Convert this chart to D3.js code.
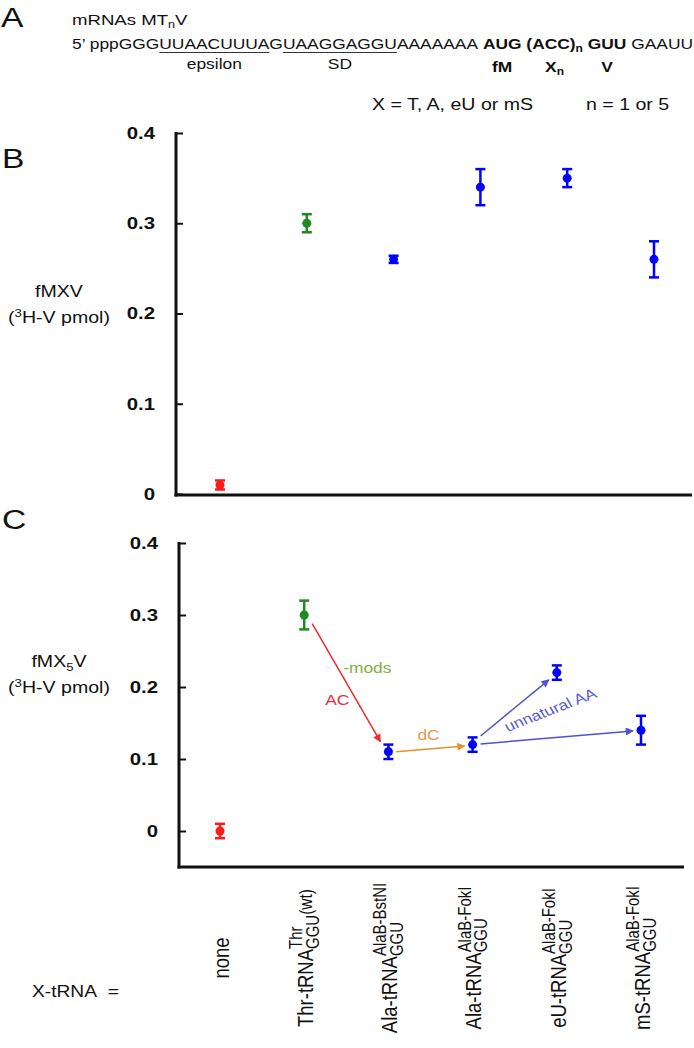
<!DOCTYPE html>
<html>
<head>
<meta charset="utf-8">
<script src="https://cdn.jsdelivr.net/npm/d3@7"></script>
<style>
  body { margin: 0; background: #fff; }
  text { font-family: "Liberation Sans", Arial, sans-serif; fill: #111; }
</style>
</head>
<body>
<div id="viz"></div>
<script>
// data
var categories = ["none", "Thr", "Ala-BstNI", "Ala-FokI", "eU", "mS"];
var pointColors = ["#ff1a1a", "#1f8a1f", "#0000ff", "#0000ff", "#0000ff", "#0000ff"];
var fmxvValues = [0.01, 0.30, 0.26, 0.34, 0.35, 0.26];
var fmxvErrors = [0.005, 0.01, 0.004, 0.02, 0.01, 0.02];
var fmx5vValues = [0.00, 0.30, 0.11, 0.12, 0.22, 0.14];
var fmx5vErrors = [0.01, 0.02, 0.01, 0.01, 0.01, 0.02];
var yTicks = [0, 0.1, 0.2, 0.3, 0.4];
var yTickLabels = ["0", "0.1", "0.2", "0.3", "0.4"];
var labelMain = ["none", "Thr-tRNA", "Ala-tRNA", "Ala-tRNA", "eU-tRNA", "mS-tRNA"];
var labelSup = ["", "Thr", "AlaB-BstNI", "AlaB-FokI", "AlaB-FokI", "AlaB-FokI"];
var labelSub = ["", "GGU", "GGU", "GGU", "GGU", "GGU"];
var labelTail = ["", "(wt)", "", "", "", ""];
// arrows in panel C: from category/value to category/value
var arrowFrom = [1, 2, 3, 3];
var arrowFromY = [0.288, 0.110, 0.132, 0.121];
var arrowTo = [2, 3, 4, 5];
var arrowToY = [0.124, 0.118, 0.210, 0.139];
var arrowColors = ["#ee2a2a", "#e8912c", "#5050d4", "#5050d4"];

var W = 694, H = 1048, SX = 1.2;
var svg = d3.select("#viz").append("svg")
  .attr("width", W).attr("height", H);
svg.append("rect").attr("width", W).attr("height", H).attr("fill", "#fff");

// text that is stretched a bit sideways like the source figure
function sText(parent, x, y, size, rot) {
  return parent.append("text")
    .attr("transform", "translate(" + x + "," + y + ") scale(" + SX + ",1)" + (rot ? " rotate(" + rot + ")" : ""))
    .attr("font-size", size + "px");
}

// ---- panel A header ----
sText(svg, 1, 27, 28).text("A");
var t1 = sText(svg, 72, 25, 15.5);
t1.append("tspan").text("mRNAs MT");
t1.append("tspan").attr("font-size", "10.5px").attr("dy", 3).text("n");
t1.append("tspan").attr("dy", -3).text("V");

var segs = [
  {t: "5\u2019 pppGGG"}, {t: "UUAACUUUA", u: "epsilon"}, {t: "G"}, {t: "UAAGGAGGU", u: "SD"},
  {t: "AAAAAAA\u00a0"}, {t: "AUG", b: 1, lab: "fM"}, {t: "\u00a0"}, {t: "(ACC)", b: 1, lab: "X"},
  {t: "n", b: 1, sub: 1}, {t: "\u00a0"}, {t: "GUU", b: 1, lab: "V"}, {t: "\u00a0GAAUU"}
];
var hg = svg.append("g").attr("transform", "translate(72,49) scale(" + SX + ",1)");
var cx = 0;
segs.forEach(function(s) {
  var t = hg.append("text").attr("x", cx)
    .attr("font-size", s.sub ? "10px" : "14.5px")
    .attr("font-weight", s.b ? "bold" : "normal")
    .attr("dy", s.sub ? 3 : 0)
    .text(s.t);
  var w = t.node().getComputedTextLength();
  if (s.u) {
    hg.append("line").attr("x1", cx).attr("x2", cx + w).attr("y1", 3.5).attr("y2", 3.5)
      .attr("stroke", "#333").attr("stroke-width", 1);
    hg.append("text").attr("x", cx + w / 2).attr("y", 20).attr("font-size", "14.5px")
      .attr("text-anchor", "middle").text(s.u);
  }
  if (s.lab) {
    var lt = hg.append("text").attr("x", cx + w / 2 + (s.lab == "X" ? 3 : 0)).attr("y", 23)
      .attr("font-size", "14.5px").attr("font-weight", "bold").attr("text-anchor", "middle");
    lt.append("tspan").text(s.lab);
    if (s.lab == "X") lt.append("tspan").attr("font-size", "10px").attr("dy", 3).text("n");
  }
  cx += w;
});
sText(svg, 372, 110, 16.3).text("X = T, A, eU or mS");
sText(svg, 586, 110, 16.3).text("n = 1 or 5");

// ---- panels B and C ----
var panels = [
  {values: fmxvValues, errors: fmxvErrors, letter: "B", letterY: 168, yTop: 133, yZero: 494,
   axisX: 176, baseY: 495, xFirst: 220, xLast: 654, xEnd: 692, labY: 297, sub: ""},
  {values: fmx5vValues, errors: fmx5vErrors, letter: "C", letterY: 529, yTop: 543, yZero: 831,
   axisX: 179, baseY: 867, xFirst: 220, xLast: 641, xEnd: 684, labY: 667, sub: "5"}
];
var scales = [];

panels.forEach(function(p, pi) {
  var x = d3.scalePoint().domain(categories).range([p.xFirst, p.xLast]);
  var y = d3.scaleLinear().domain([0, 0.4]).range([p.yZero, p.yTop]);
  scales.push({x: x, y: y});

  sText(svg, 2, p.letterY, 28).text(p.letter);

  // y axis label
  var l1 = sText(svg, 59, p.labY, 16.3).attr("text-anchor", "middle");
  l1.append("tspan").text("fMX");
  if (p.sub) {
    l1.append("tspan").attr("font-size", "11px").attr("dy", 4).text(p.sub);
    l1.append("tspan").attr("dy", -4).text("V");
  } else {
    l1.append("tspan").text("V");
  }
  var l2 = sText(svg, 59, p.labY + 26, 16.3).attr("text-anchor", "middle");
  l2.append("tspan").text("(");
  l2.append("tspan").attr("font-size", "11px").attr("dy", -6).text("3");
  l2.append("tspan").attr("dy", 6).text("H-V pmol)");

  // y axis with inward ticks
  var ax = svg.append("g").attr("transform", "translate(" + p.axisX + ",0)")
    .call(d3.axisLeft(y).tickValues(yTicks).tickSize(-7).tickSizeOuter(0).tickPadding(17.5)
      .tickFormat(function(d, i) { return yTickLabels[i]; }));
  ax.select(".domain").remove();
  ax.selectAll(".tick line").attr("stroke", "#111").attr("stroke-width", 2);
  ax.selectAll(".tick text").attr("font-size", "17px").attr("font-weight", "bold")
    .attr("font-family", "Liberation Sans, Arial, sans-serif").attr("fill", "#111")
    .attr("transform", "scale(" + SX + ",1)");
  svg.append("line").attr("x1", p.axisX).attr("x2", p.axisX).attr("y1", y(0.4) - 1).attr("y2", p.baseY + 1.5)
    .attr("stroke", "#111").attr("stroke-width", 3);
  svg.append("line").attr("x1", p.axisX - 1.5).attr("x2", p.xEnd).attr("y1", p.baseY).attr("y2", p.baseY)
    .attr("stroke", "#111").attr("stroke-width", 3);

  // error bars and points
  var g = svg.append("g");
  categories.forEach(function(c, i) {
    var v = p.values[i], e = p.errors[i], col = pointColors[i];
    g.append("line").attr("x1", x(c)).attr("x2", x(c)).attr("y1", y(v - e)).attr("y2", y(v + e))
      .attr("stroke", col).attr("stroke-width", 2.5);
    [v - e, v + e].forEach(function(cv) {
      g.append("line").attr("x1", x(c) - 5).attr("x2", x(c) + 5).attr("y1", y(cv)).attr("y2", y(cv))
        .attr("stroke", col).attr("stroke-width", 2.5);
    });
    g.append("circle").attr("cx", x(c)).attr("cy", y(v)).attr("r", 4.5).attr("fill", col);
  });
});

// ---- arrows in panel C ----
var sc = scales[1];
var defs = svg.append("defs");
arrowColors.forEach(function(col, i) {
  defs.append("marker").attr("id", "ah" + i).attr("viewBox", "0 0 10 10")
    .attr("refX", 9).attr("refY", 5).attr("markerUnits", "userSpaceOnUse")
    .attr("markerWidth", 9).attr("markerHeight", 8).attr("orient", "auto")
    .append("path").attr("d", "M0,0 L10,5 L0,10 z").attr("fill", col);
});
var mids = [];
arrowFrom.forEach(function(f, i) {
  var x1 = sc.x(categories[f]) + 8, y1 = sc.y(arrowFromY[i]);
  var x2 = sc.x(categories[arrowTo[i]]) - 8, y2 = sc.y(arrowToY[i]);
  svg.append("line").attr("x1", x1).attr("y1", y1).attr("x2", x2).attr("y2", y2)
    .attr("stroke", arrowColors[i]).attr("stroke-width", 1.5).attr("marker-end", "url(#ah" + i + ")");
  mids.push([(x1 + x2) / 2, (y1 + y2) / 2]);
});
sText(svg, mids[0][0] - 9, mids[0][1] + 22, 14.5).attr("text-anchor", "middle").style("fill", "#e8303a").text("AC");
sText(svg, mids[0][0] + 21, mids[0][1] - 10, 14.5).attr("text-anchor", "middle").style("fill", "#86ad3e").text("-mods");
sText(svg, mids[1][0] - 2, mids[1][1] - 9, 14.5).attr("text-anchor", "middle").style("fill", "#e39a4c").text("dC");
sText(svg, mids[3][0] - 4, mids[3][1] - 23, 14.5, -25).attr("text-anchor", "middle").style("fill", "#5a5ad0").text("unnatural AA");

// ---- category labels ----
sText(svg, 32, 997, 16).text("X-tRNA\u00a0\u00a0=");
var xl = scales[1].x;
categories.forEach(function(c, i) {
  var g = svg.append("g").attr("transform", "translate(" + (xl(c) + 1) + ",958) scale(" + SX + ",1) rotate(-90)");
  var t = g.append("text").attr("font-size", "18.5px").attr("y", 6.5);
  t.append("tspan").text(labelMain[i]);
  if (labelSup[i]) {
    var sp = t.append("tspan").attr("font-size", "15px").attr("dy", -9).text(labelSup[i]);
    var sw = sp.node().getComputedTextLength();
    t.append("tspan").attr("font-size", "15px").attr("dx", -sw).attr("dy", 14).text(labelSub[i]);
  }
  if (labelTail[i]) t.append("tspan").attr("font-size", "15.5px").attr("dy", -6).text(labelTail[i]);
  var bb = t.node().getBBox();
  t.attr("x", -(bb.x + bb.width / 2));
});
</script>
</body>
</html>
